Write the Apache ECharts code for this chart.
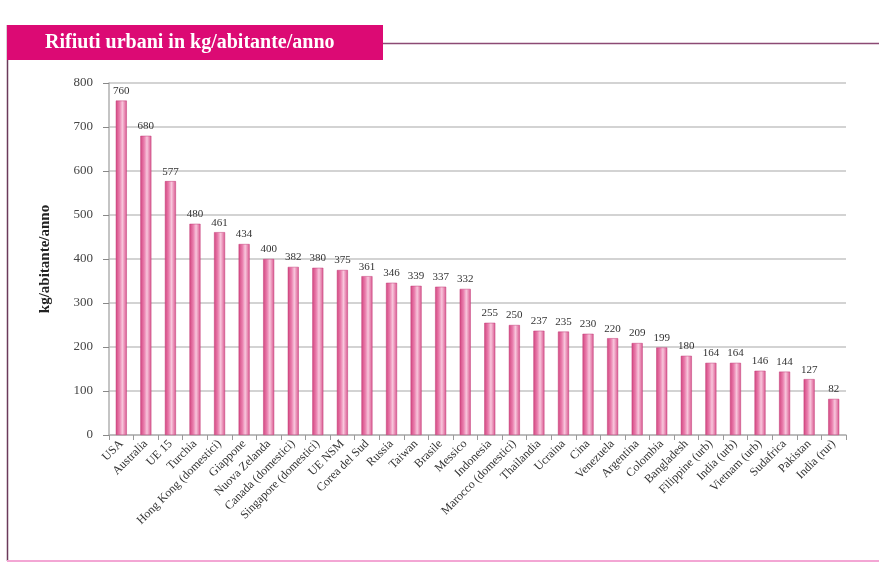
<!DOCTYPE html>
<html>
<head>
<meta charset="utf-8">
<script src="https://cdn.jsdelivr.net/npm/echarts@6/dist/echarts.min.js"></script>
<style>
  html, body { margin: 0; padding: 0; background: #ffffff; }
  #chart { width: 879px; height: 563px; }
</style>
</head>
<body>
<div id="chart"></div>
<script>
// Municipal waste per inhabitant per year
const paesi = [
  'USA', 'Australia', 'UE 15', 'Turchia', 'Hong Kong (domestici)', 'Giappone',
  'Nuova Zelanda', 'Canada (domestici)', 'Singapore (domestici)', 'UE NSM',
  'Corea del Sud', 'Russia', 'Taiwan', 'Brasile', 'Messico', 'Indonesia',
  'Marocco (domestici)', 'Thailandia', 'Ucraina', 'Cina', 'Venezuela',
  'Argentina', 'Colombia', 'Bangladesh', 'Filippine (urb)', 'India (urb)',
  'Vietnam (urb)', 'Sudafrica', 'Pakistan', 'India (rur)'
];
const rifiuti = [
  760, 680, 577, 480, 461, 434, 400, 382, 380, 375,
  361, 346, 339, 337, 332, 255, 250, 237, 235, 230,
  220, 209, 199, 180, 164, 164, 146, 144, 127, 82
];
const yTicks = [0, 100, 200, 300, 400, 500, 600, 700, 800];

const serif = '"Liberation Serif", "DejaVu Serif", serif';
const chart = echarts.init(document.getElementById('chart'));

// cylinder-like shading for the bars
const barFill = new echarts.graphic.LinearGradient(0, 0, 1, 0, [
  { offset: 0, color: '#d2457f' },
  { offset: 0.35, color: '#ea7fae' },
  { offset: 0.6, color: '#f8c6dc' },
  { offset: 1, color: '#d9558e' }
]);

chart.setOption({
  animation: false,
  backgroundColor: '#ffffff',
  graphic: [
    // frame: left border, bottom line, header rule
    { type: 'line', shape: { x1: 7.5, y1: 25, x2: 7.5, y2: 561 },
      style: { stroke: '#6b3a5a', lineWidth: 1.5 } },
    { type: 'line', shape: { x1: 7, y1: 561, x2: 879, y2: 561 },
      style: { stroke: '#f3a6d4', lineWidth: 2 } },
    { type: 'line', shape: { x1: 383, y1: 43.5, x2: 879, y2: 43.5 },
      style: { stroke: '#8c4a74', lineWidth: 1.5 } },
    // header box
    { type: 'rect', shape: { x: 7, y: 25, width: 376, height: 35 },
      style: { fill: '#dc0a74' } },
    { type: 'text', left: 45, top: 33,
      style: { text: 'Rifiuti urbani in kg/abitante/anno', fill: '#ffffff',
               font: 'bold 20px ' + serif } }
  ],
  grid: { left: 109, right: 33, top: 83, bottom: 128 },
  xAxis: {
    type: 'category',
    data: paesi,
    axisLine: { lineStyle: { color: '#b5b5b5', width: 1.5 } },
    axisTick: { show: true, length: 5, lineStyle: { color: '#999' } },
    axisLabel: {
      rotate: 45, interval: 0, margin: 7,
      fontFamily: serif, fontSize: 12, color: '#333'
    }
  },
  yAxis: {
    type: 'value',
    min: yTicks[0], max: yTicks[yTicks.length - 1], interval: 100,
    name: 'kg/abitante/anno',
    nameLocation: 'middle', nameGap: 56,
    nameTextStyle: { fontFamily: serif, fontSize: 15, fontWeight: 'bold', color: '#222' },
    axisLine: { show: true, lineStyle: { color: '#b0b0b0', width: 1.5 } },
    axisTick: { show: true, length: 6, lineStyle: { color: '#888' } },
    axisLabel: { fontFamily: serif, fontSize: 13, color: '#444', margin: 16 },
    splitLine: { lineStyle: { color: '#c4c4c4', width: 1.5 } }
  },
  series: [{
    type: 'bar',
    data: rifiuti,
    barWidth: 11,
    itemStyle: { color: barFill, borderColor: '#c23c78', borderWidth: 0.5 },
    label: {
      show: true, position: 'top', distance: 4,
      fontFamily: serif, fontSize: 11, color: '#333'
    }
  }]
});
</script>
</body>
</html>
